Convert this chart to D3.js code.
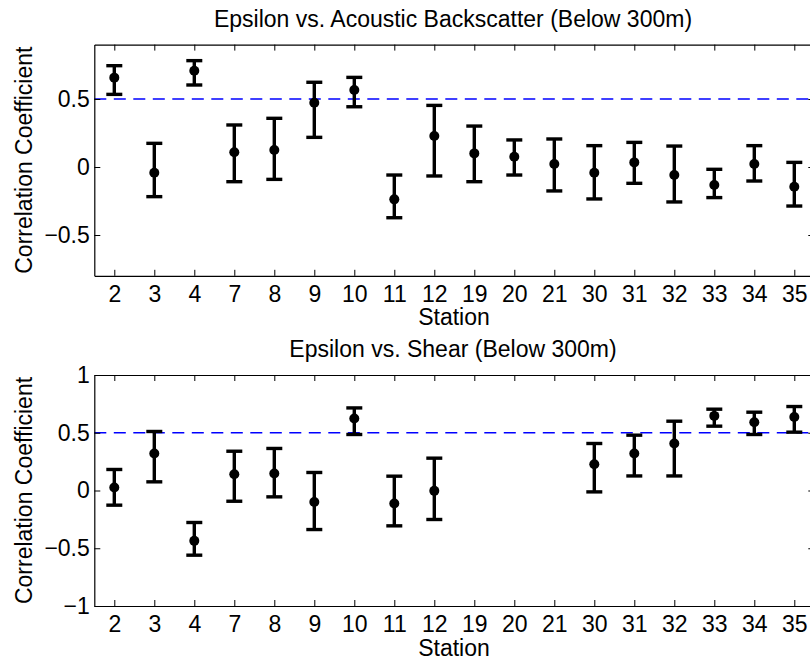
<!DOCTYPE html>
<html lang="en">
<head>
  <meta charset="UTF-8">
  <title>Epsilon correlation by station</title>
  <script src="https://d3js.org/d3.v7.min.js"></script>
  <style>
    body { margin: 0; background: #fff; }
    text { font-family: "Liberation Sans", Arial, Helvetica, sans-serif; fill: #000; }
  </style>
</head>
<body>
  <svg id="chart"></svg>
  <script>
    // station labels along the x axis
    const stations = ["2", "3", "4", "7", "8", "9", "10", "11", "12", "19", "20", "21", "30", "31", "32", "33", "34", "35"];

    // epsilon vs acoustic backscatter: correlation and error bar ends
    const backscatterR  = [0.657, -0.042, 0.708, 0.108, 0.125, 0.473, 0.566, -0.238, 0.228, 0.100, 0.076, 0.022, -0.042, 0.034, -0.059, -0.132, 0.022, -0.145];
    const backscatterHi = [0.745, 0.174, 0.782, 0.309, 0.358, 0.623, 0.659, -0.059, 0.453, 0.301, 0.199, 0.206, 0.157, 0.181, 0.154, -0.017, 0.157, 0.034];
    const backscatterLo = [0.534, -0.218, 0.603, -0.108, -0.091, 0.218, 0.443, -0.373, -0.066, -0.108, -0.059, -0.176, -0.235, -0.120, -0.257, -0.225, -0.103, -0.287];

    // epsilon vs shear (stations 19, 20, 21 have no value)
    const shearR  = [0.026, 0.320, -0.436, 0.141, 0.147, -0.099, 0.623, -0.113, -0.003, null, null, null, 0.228, 0.320, 0.407, 0.646, 0.591, 0.637];
    const shearHi = [0.182, 0.511, -0.277, 0.340, 0.364, 0.156, 0.715, 0.124, 0.280, null, null, null, 0.407, 0.479, 0.600, 0.704, 0.678, 0.727];
    const shearLo = [-0.127, 0.075, -0.560, -0.093, -0.055, -0.338, 0.485, -0.306, -0.251, null, null, null, -0.012, 0.126, 0.126, 0.557, 0.485, 0.505];

    const threshold = 0.5;
    const topTicks = [-0.5, 0, 0.5];
    const bottomTicks = [-1, -0.5, 0, 0.5, 1];

    const W = 810, H = 660;
    const svg = d3.select("#chart").attr("width", W).attr("height", H);

    const fmt = d => d === 0 ? "0" : (d < 0 ? "\u2212" + String(-d) : String(d));

    function panel(opts) {
      const x = d3.scaleLinear().domain([0.5, stations.length + 0.5]).range([94.3, 814.3]);
      const y = d3.scaleLinear().domain(opts.yDomain).range([opts.bottom, opts.top]);
      const g = svg.append("g");

      const rows = stations.map((s, i) => ({i: i + 1, r: opts.r[i], hi: opts.hi[i], lo: opts.lo[i]}))
        .filter(d => d.r != null);

      // threshold line
      g.append("line")
        .attr("x1", x(0.5)).attr("x2", x(stations.length + 0.5))
        .attr("y1", y(threshold)).attr("y2", y(threshold))
        .attr("stroke", "#0000ff").attr("stroke-width", 1.7)
        .attr("stroke-dasharray", "12,7.5");

      // error bars
      const eb = g.selectAll(".eb").data(rows).enter().append("g")
        .attr("stroke", "#000").attr("stroke-width", 3.4);
      eb.append("line").attr("x1", d => x(d.i)).attr("x2", d => x(d.i))
        .attr("y1", d => y(d.lo)).attr("y2", d => y(d.hi));
      eb.append("line").attr("x1", d => x(d.i) - 8).attr("x2", d => x(d.i) + 8)
        .attr("y1", d => y(d.hi)).attr("y2", d => y(d.hi));
      eb.append("line").attr("x1", d => x(d.i) - 8).attr("x2", d => x(d.i) + 8)
        .attr("y1", d => y(d.lo)).attr("y2", d => y(d.lo));
      g.selectAll(".pt").data(rows).enter().append("circle")
        .attr("cx", d => x(d.i)).attr("cy", d => y(d.r)).attr("r", 5).attr("fill", "#000");

      // axes (ticks inward, mirrored on top/right)
      const ticksX = d3.range(1, stations.length + 1);
      g.append("g").attr("transform", `translate(0,${opts.bottom})`)
        .call(d3.axisBottom(x).tickValues(ticksX).tickFormat(d => stations[d - 1])
          .tickSizeInner(-6).tickSizeOuter(0).tickPadding(9.7));
      g.append("g").attr("transform", `translate(0,${opts.top})`)
        .call(d3.axisTop(x).tickValues(ticksX).tickFormat("").tickSizeInner(-6).tickSizeOuter(0));
      g.append("g").attr("transform", `translate(${x(0.5)},0)`)
        .call(d3.axisLeft(y).tickValues(opts.ticks).tickFormat(fmt)
          .tickSizeInner(-6).tickSizeOuter(0).tickPadding(4.5));
      g.append("g").attr("transform", `translate(${x(stations.length + 0.5)},0)`)
        .call(d3.axisRight(y).tickValues(opts.ticks).tickFormat("").tickSizeInner(-6).tickSizeOuter(0));

      g.selectAll(".domain").attr("stroke", "#000").attr("stroke-width", 1.2);
      g.selectAll(".tick line").attr("stroke", "#000").attr("stroke-width", 1);
      g.selectAll(".tick text").attr("font-size", 23)
        .attr("font-family", '"Liberation Sans", Arial, Helvetica, sans-serif').attr("fill", "#000");

      g.append("text").attr("x", 454).attr("y", opts.bottom + 49.5)
        .attr("text-anchor", "middle").attr("font-size", 23).text("Station");
      g.append("text").attr("transform", `translate(32,${(opts.top + opts.bottom) / 2}) rotate(-90)`)
        .attr("text-anchor", "middle").attr("font-size", 23).text("Correlation Coefficient");
      g.append("text").attr("x", 453).attr("y", opts.top - 18)
        .attr("text-anchor", "middle").attr("font-size", 23).text(opts.title);
    }

    panel({
      title: "Epsilon vs. Acoustic Backscatter (Below 300m)",
      top: 44.6, bottom: 275.8, yDomain: [-0.8, 0.9], ticks: topTicks,
      r: backscatterR, hi: backscatterHi, lo: backscatterLo
    });
    panel({
      title: "Epsilon vs. Shear (Below 300m)",
      top: 375, bottom: 606, yDomain: [-1, 1], ticks: bottomTicks,
      r: shearR, hi: shearHi, lo: shearLo
    });
  </script>
</body>
</html>
